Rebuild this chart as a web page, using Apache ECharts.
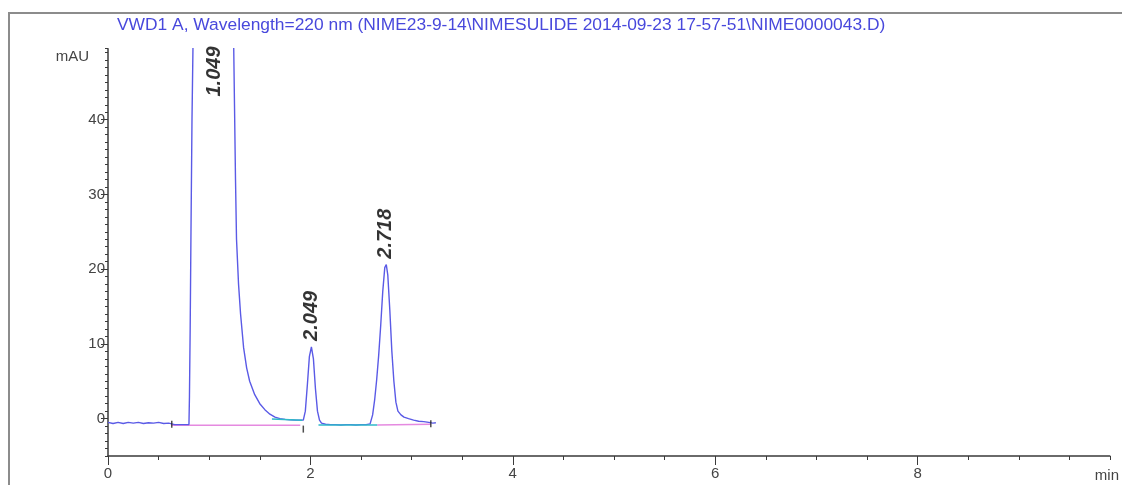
<!DOCTYPE html>
<html>
<head>
<meta charset="utf-8">
<script src="https://cdn.jsdelivr.net/npm/echarts@6/dist/echarts.min.js"></script>
<style>
html,body{margin:0;padding:0;background:#fff;}
#chart{width:1122px;height:485px;}
</style>
</head>
<body>
<div id="chart"></div>
<script>
// ---- data ----
const titleText = 'VWD1 A, Wavelength=220 nm (NIME23-9-14\\NIMESULIDE 2014-09-23 17-57-51\\NIME0000043.D)';
const time = [0,0.05,0.1,0.15,0.2,0.25,0.3,0.35,0.4,0.45,0.5,0.55,0.6,0.63,0.66,0.7,0.75,0.8,
  0.805,0.812,0.82,0.83,0.845,0.87,0.92,0.98,1.02,1.05,1.08,1.12,1.17,1.21,1.24,1.25,1.26,1.27,1.29,1.31,1.34,1.37,1.40,1.45,1.50,1.55,1.60,1.65,1.70,1.75,1.80,1.85,1.90,1.93,
  1.95,1.97,1.99,2.01,2.03,2.05,2.07,2.09,2.11,2.15,2.2,2.25,2.3,2.35,2.4,2.45,2.5,2.55,2.59,
  2.615,2.635,2.655,2.675,2.695,2.715,2.735,2.75,2.765,2.785,2.805,2.825,2.845,2.865,2.895,2.925,2.97,3.02,3.07,3.12,3.17,3.21,3.24];
const signal = [-0.5,-0.65,-0.5,-0.65,-0.5,-0.6,-0.5,-0.65,-0.55,-0.6,-0.5,-0.65,-0.6,-0.7,-0.8,-0.8,-0.8,-0.8,
  3,12,25,40,55,75,105,125,132,134,132,120,95,70,52,42,32,24,18,14,9.5,6.8,5.0,3.2,2.0,1.2,0.6,0.2,0.0,-0.1,-0.15,-0.2,-0.2,-0.2,
  1.0,4.5,8.3,9.6,8.0,4.0,1.0,-0.2,-0.6,-0.75,-0.8,-0.8,-0.85,-0.8,-0.8,-0.85,-0.8,-0.8,-0.7,
  0.5,2.5,5.2,8.5,12.5,17,20.2,20.6,19.2,14.5,9.0,5.0,2.2,1.0,0.5,0.2,0.0,-0.2,-0.35,-0.4,-0.5,-0.6,-0.55];
const peakLabels = ['1.049', '2.049', '2.718'];
const peakX = [1.049, 2.01, 2.745];
const peakY = [42.3, 9.6, 20.6];
const pinkBase1 = [[0.63, -0.9], [1.90, -0.9]];
const cyanBase1 = [[1.62, -0.05], [1.92, -0.2]];
const cyanBase2 = [[2.08, -0.85], [2.66, -0.85]];
const pinkBase2 = [[2.66, -0.85], [3.19, -0.75]];
const eventMarks = [[0.63, -0.75], [1.93, -1.4], [3.19, -0.7]];
const xLabelValues = [0, 2, 4, 6, 8];
const yLabelValues = [0, 10, 20, 30, 40];
const xMin = 0, xMax = 9.9, yMin = -5, yMax = 49.5;

// ---- chart ----
const chart = echarts.init(document.getElementById('chart'), null, {renderer: 'canvas'});
const font = 'Liberation Sans, Arial, sans-serif';
const axisColor = '#3a3a3a';
const tickLabel = {color: '#444', fontSize: 15, fontFamily: font};

const option = {
  animation: false,
  backgroundColor: '#fff',
  grid: {left: 108, right: 0, top: 48.7, bottom: 29, containLabel: false},
  graphic: [
    {type: 'polyline', shape: {points: [[9, 485], [9, 13], [1122, 13]]},
     style: {stroke: '#8c8c8c', lineWidth: 2, fill: null}, silent: true},
    {type: 'text', left: 117, top: 17,
     style: {text: titleText, fill: '#4848dc', fontSize: 17.4, fontFamily: font}}
  ],
  xAxis: [
    {type: 'value', min: xMin, max: xMax, interval: 0.5, position: 'bottom',
     axisLine: {show: true, onZero: false, lineStyle: {color: axisColor, width: 1.5}},
     axisTick: {show: true, length: 4, lineStyle: {color: axisColor}},
     axisLabel: {show: false}, splitLine: {show: false},
     name: 'min', nameLocation: 'end', nameGap: -15,
     nameTextStyle: {color: '#444', fontSize: 15, fontFamily: font, align: 'left', verticalAlign: 'top', padding: [12, 0, 0, 0]}},
    {type: 'value', min: xMin, max: xMax, position: 'bottom',
     axisLine: {show: false, onZero: false},
     axisTick: {show: true, length: 9, customValues: xLabelValues, lineStyle: {color: axisColor}},
     axisLabel: Object.assign({show: true, customValues: xLabelValues, margin: 10}, tickLabel),
     splitLine: {show: false}}
  ],
  yAxis: [
    {type: 'value', min: yMin, max: yMax, interval: 1, position: 'left',
     axisLine: {show: true, onZero: false, lineStyle: {color: axisColor, width: 1.5}},
     axisTick: {show: true, length: 3, lineStyle: {color: axisColor}},
     axisLabel: {show: false}, splitLine: {show: false},
     name: 'mAU', nameLocation: 'end', nameGap: -8,
     nameTextStyle: {color: '#444', fontSize: 15, fontFamily: font, align: 'right', verticalAlign: 'middle', padding: [0, 19, 0, 0]}},
    {type: 'value', min: yMin, max: yMax, position: 'left',
     axisLine: {show: false, onZero: false},
     axisTick: {show: true, length: 7, customValues: yLabelValues, lineStyle: {color: axisColor}},
     axisLabel: Object.assign({show: true, customValues: yLabelValues, margin: 3}, tickLabel),
     splitLine: {show: false}}
  ],
  series: [
    {type: 'line', name: 'baseline1', data: pinkBase1, symbol: 'none', lineStyle: {color: '#e58ae0', width: 1.5}, z: 2},
    {type: 'line', name: 'baseline2', data: pinkBase2, symbol: 'none', lineStyle: {color: '#e58ae0', width: 1.5}, z: 2},
    {type: 'line', name: 'signal', data: time.map((t, i) => [t, signal[i]]),
     symbol: 'none', clip: true, lineStyle: {color: '#5a5ae6', width: 1.4}, z: 3},
    {type: 'line', name: 'baseline3', data: cyanBase1, symbol: 'none', lineStyle: {color: '#2fb8c8', width: 1.5}, z: 4},
    {type: 'line', name: 'baseline4', data: cyanBase2, symbol: 'none', lineStyle: {color: '#2fb8c8', width: 1.5}, z: 4},
    {type: 'scatter', name: 'events', data: eventMarks, symbol: 'rect', symbolSize: [1.5, 7],
     itemStyle: {color: '#222'}, z: 5},
    {type: 'scatter', name: 'peaks', data: peakX.map((t, i) => [t, peakY[i]]), symbolSize: 0, z: 6,
     label: {show: true, rotate: 90, position: 'top', distance: 6, align: 'left', verticalAlign: 'middle',
       formatter: p => peakLabels[p.dataIndex],
       color: '#000', fontSize: 20, fontWeight: 'bold', fontStyle: 'italic', fontFamily: font}}
  ]
};
chart.setOption(option);
</script>
</body>
</html>
